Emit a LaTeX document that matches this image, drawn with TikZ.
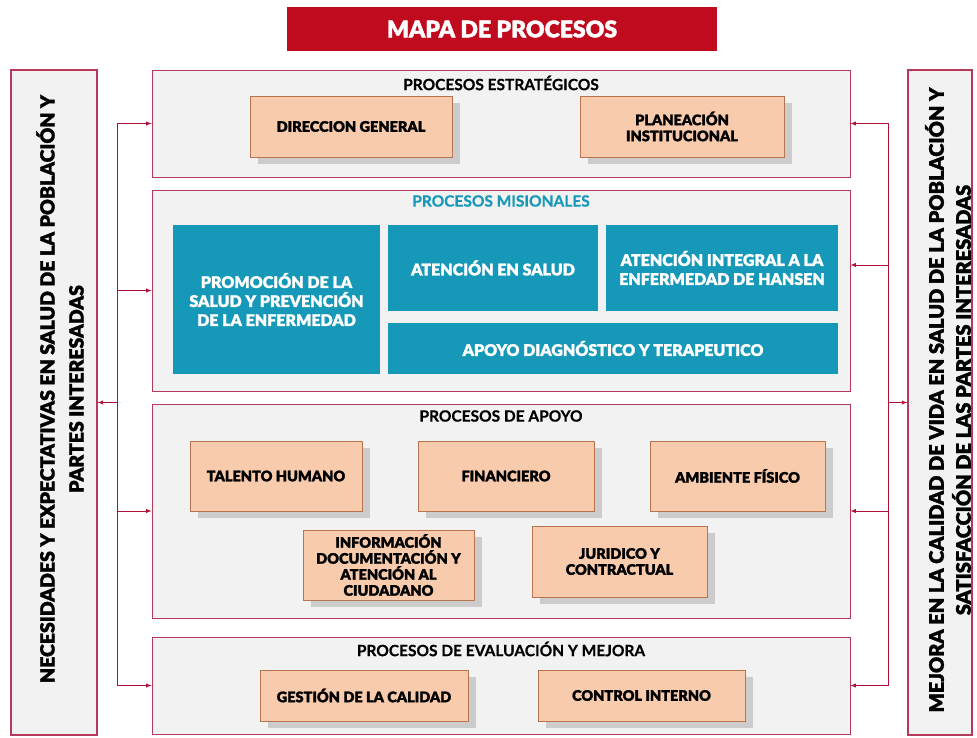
\documentclass[tikz,border=0pt]{standalone}
\usepackage{fontspec}
\setmainfont{Lato}
\newfontfamily\heavy{Lato Black}[FakeBold=1.6]
\newfontfamily\semiheavy{Lato Bold}[FakeBold=0.6]
\usetikzlibrary{shadows}

\definecolor{mapred}{HTML}{C00A1E}
\definecolor{frame}{HTML}{B5395A}
\definecolor{arrowred}{HTML}{B01038}
\definecolor{panelgray}{HTML}{F2F2F2}
\definecolor{salmon}{HTML}{F8CBAD}
\definecolor{salmonline}{HTML}{B9734E}
\definecolor{misteal}{HTML}{1698B8}

\begin{document}
\begin{tikzpicture}[x=1pt, y=-1pt,
  panel/.style={draw=frame, fill=panelgray, line width=.8pt, inner sep=0pt},
  side/.style={draw=frame, fill=panelgray, line width=1.2pt, inner sep=0pt},
  proc/.style={draw=salmonline, fill=salmon, inner sep=0pt, align=center,
    font=\heavy\fontsize{14.5}{16}\selectfont,
    drop shadow={shadow xshift=8pt, shadow yshift=-7pt, fill=black!20, opacity=1}},
  mis/.style={fill=misteal, text=white, inner sep=0pt, align=center,
    font=\heavy\fontsize{16}{19}\selectfont},
  ptitle/.style={font=\semiheavy\fontsize{15.5}{17}\selectfont},
  sidetext/.style={rotate=90, align=center, font=\heavy\fontsize{19.5}{29}\selectfont},
  wire/.style={draw=arrowred, line width=.9pt},
  arr/.style={wire, -latex}]
  \useasboundingbox (0,0) rectangle (977,738);

  \node [fill=mapred, text=white, minimum width=430pt, minimum height=44pt,
    font=\heavy\fontsize{23}{25}\selectfont] (mapa) at (502,29) {MAPA DE PROCESOS};

  \node [side, minimum width=86pt, minimum height=665pt] (nec) at (54,402.5) {};
  \node [sidetext] (nectext) at (60,389)
    {NECESIDADES Y EXPECTATIVAS EN SALUD DE LA POBLACIÓN Y\\PARTES INTERESADAS};
  \node [side, minimum width=64pt, minimum height=665pt] (mej) at (940,402.5) {};
  \node [sidetext, font=\heavy\fontsize{20}{27}\selectfont] (mejtext) at (948,400)
    {MEJORA EN LA CALIDAD DE VIDA EN SALUD DE LA POBLACIÓN Y\\SATISFACCIÓN DE LAS PARTES INTERESADAS};

  \node [panel, minimum width=698pt, minimum height=107pt] (estr) at (501,123.5) {};
  \node [panel, minimum width=698pt, minimum height=201pt] (misi) at (501,290.5) {};
  \node [panel, minimum width=698pt, minimum height=214pt] (apoyo) at (501,511) {};
  \node [panel, minimum width=698pt, minimum height=97pt] (eval) at (501,685.5) {};

  \node [ptitle] (estrtitle) at (501,83) {PROCESOS ESTRATÉGICOS};
  \node [ptitle, text=misteal] (misititle) at (501,201) {PROCESOS MISIONALES};
  \node [ptitle] (apoyotitle) at (501,416) {PROCESOS DE APOYO};
  \node [ptitle] (evaltitle) at (501,649) {PROCESOS DE EVALUACIÓN Y MEJORA};

  \node [proc, minimum width=202pt, minimum height=61pt] (dir) at (351,126.5) {DIRECCION GENERAL};
  \node [proc, minimum width=204pt, minimum height=61pt] (plan) at (682,126.5) {PLANEACIÓN\\INSTITUCIONAL};

  \node [mis, minimum width=207pt, minimum height=149pt] (prom) at (276.5,299.5)
    {PROMOCIÓN DE LA\\SALUD Y PREVENCIÓN\\DE LA ENFERMEDAD};
  \node [mis, minimum width=210pt, minimum height=86pt] (aten) at (493,268) {ATENCIÓN EN SALUD};
  \node [mis, minimum width=232pt, minimum height=86pt] (hans) at (722,268)
    {ATENCIÓN INTEGRAL A LA\\ENFERMEDAD DE HANSEN};
  \node [mis, minimum width=450pt, minimum height=51pt] (diag) at (613,348.5)
    {APOYO DIAGNÓSTICO Y TERAPEUTICO};

  \node [proc, minimum width=172pt, minimum height=70pt] (tal) at (276,476) {TALENTO HUMANO};
  \node [proc, minimum width=176pt, minimum height=70pt] (fin) at (506,476) {FINANCIERO};
  \node [proc, minimum width=175pt, minimum height=70pt] (amb) at (737.5,476) {AMBIENTE FÍSICO};
  \node [proc, minimum width=171pt, minimum height=70pt] (info) at (388.5,565)
    {INFORMACIÓN\\DOCUMENTACIÓN Y\\ATENCIÓN AL\\CIUDADANO};
  \node [proc, minimum width=175pt, minimum height=71pt] (jur) at (619.5,561.5) {JURIDICO Y\\CONTRACTUAL};

  \node [proc, minimum width=208pt, minimum height=51pt] (gest) at (364,695.5) {GESTIÓN DE LA CALIDAD};
  \node [proc, minimum width=207pt, minimum height=51pt] (ctrl) at (641.5,695.5) {CONTROL INTERNO};

  \coordinate (lx) at (117,0);
  \coordinate (rx) at (888,0);
  \coordinate (rm) at (888,265);
  \draw [wire] (lx |- estr.west) -- (lx |- eval.west);
  \draw [wire] (rx |- estr.east) -- (rx |- eval.east);
  \foreach \p in {estr,misi,apoyo,eval}
    \draw [arr] (lx |- \p.west) -- (\p.west);
  \foreach \p in {estr,apoyo,eval}
    \draw [arr] (rx |- \p.east) -- (\p.east);
  \draw [arr] (rm) -- (misi.east |- rm);
  \draw [arr] (lx |- nec.east) -- (nec.east);
  \draw [arr] (rx |- mej.west) -- (mej.west);
\end{tikzpicture}
\end{document}
